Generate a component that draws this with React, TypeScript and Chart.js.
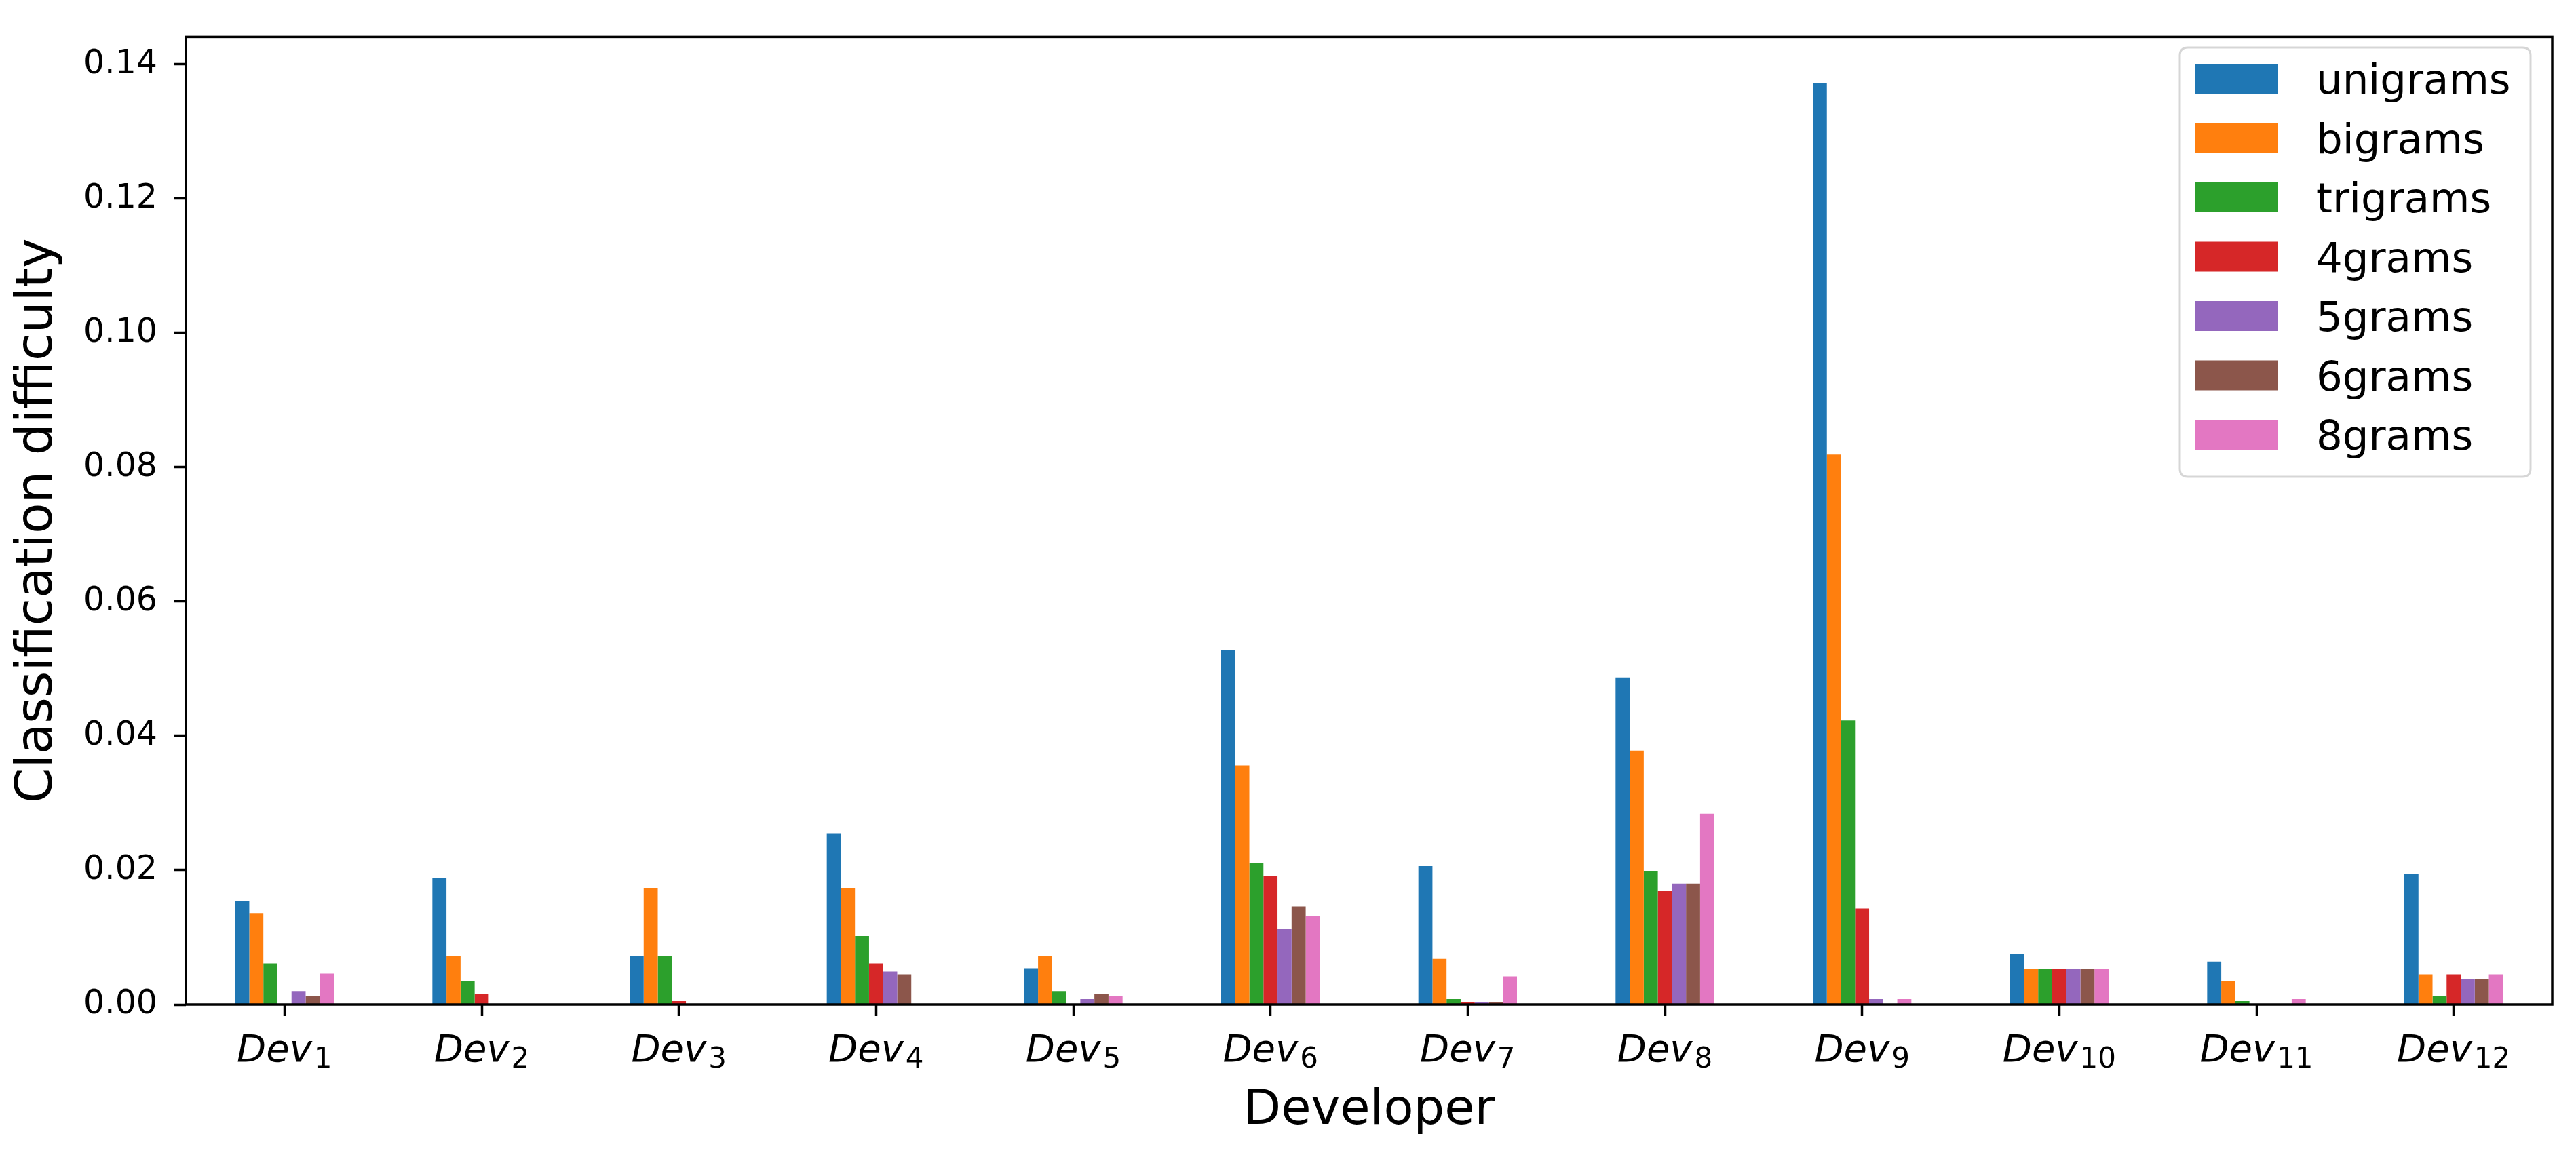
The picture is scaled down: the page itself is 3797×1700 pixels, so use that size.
import React, { useEffect, useRef } from "react";
import { Chart, registerables } from "chart.js";

Chart.register(...registerables);

const categories = ["1", "2", "3", "4", "5", "6", "7", "8", "9", "10", "11", "12"];
const seriesNames = ["unigrams", "bigrams", "trigrams", "4grams", "5grams", "6grams", "8grams"];
const seriesColors = ["#1f77b4", "#ff7f0e", "#2ca02c", "#d62728", "#9467bd", "#8c564b", "#e377c2"];

const unigrams = [0.0154, 0.0188, 0.0072, 0.0255, 0.0054, 0.0528, 0.0206, 0.0487, 0.1372, 0.0075, 0.0064, 0.0195];
const bigrams = [0.0136, 0.0072, 0.0173, 0.0173, 0.0072, 0.0356, 0.0068, 0.0378, 0.0819, 0.0053, 0.0035, 0.0045];
const trigrams = [0.0061, 0.0035, 0.0072, 0.0102, 0.002, 0.021, 0.0008, 0.0199, 0.0423, 0.0053, 0.0005, 0.0012];
const fourgrams = [0, 0.0016, 0.0005, 0.0061, 0, 0.0192, 0.0004, 0.0169, 0.0143, 0.0053, 0, 0.0045];
const fivegrams = [0.002, 0, 0, 0.0049, 0.0008, 0.0113, 0.0004, 0.018, 0.0008, 0.0053, 0, 0.0038];
const sixgrams = [0.0012, 0, 0, 0.0045, 0.0016, 0.0146, 0.0004, 0.018, 0, 0.0053, 0, 0.0038];
const eightgrams = [0.0046, 0, 0, 0, 0.0012, 0.0132, 0.0042, 0.0284, 0.0008, 0.0053, 0.0008, 0.0045];

const seriesValues = [unigrams, bigrams, trigrams, fourgrams, fivegrams, sixgrams, eightgrams];
const yTicks = [0, 0.02, 0.04, 0.06, 0.08, 0.1, 0.12, 0.14];
const yMax = 0.1441;

const W = 3797;
const H = 1700;
const FONT = "'DejaVu Sans', 'Liberation Sans', sans-serif";

const spinesPlugin = {
  id: "spines",
  afterDatasetsDraw(chart: any) {
    const { ctx, chartArea } = chart;
    ctx.save();
    ctx.strokeStyle = "#000";
    ctx.lineWidth = 3.5;
    ctx.strokeRect(chartArea.left, chartArea.top, chartArea.right - chartArea.left, chartArea.bottom - chartArea.top);
    ctx.restore();
  },
};

const xLabelsPlugin = {
  id: "xlabels",
  afterDraw(chart: any) {
    const { ctx } = chart;
    const xs = chart.scales.x;
    ctx.save();
    ctx.fillStyle = "#000";
    ctx.textBaseline = "alphabetic";
    ctx.textAlign = "left";
    const mainFont = `italic 56px ${FONT}`;
    const subFont = `42px ${FONT}`;
    categories.forEach((c, i) => {
      const x = xs.getPixelForValue(i);
      ctx.font = mainFont;
      const w1 = ctx.measureText("Dev").width;
      ctx.font = subFont;
      const w2 = ctx.measureText(c).width;
      const gap = 3;
      const total = w1 + gap + w2;
      const x0 = x - total / 2;
      ctx.font = mainFont;
      ctx.fillText("Dev", x0, 1565);
      ctx.font = subFont;
      ctx.fillText(c, x0 + w1 + gap, 1574);
    });
    ctx.restore();
  },
};

const legendPlugin = {
  id: "customLegend",
  afterDraw(chart: any) {
    const { ctx } = chart;
    ctx.save();
    const bx = 3213, by = 70, bw = 517, bh = 633, r = 12;
    ctx.beginPath();
    ctx.moveTo(bx + r, by);
    ctx.lineTo(bx + bw - r, by);
    ctx.quadraticCurveTo(bx + bw, by, bx + bw, by + r);
    ctx.lineTo(bx + bw, by + bh - r);
    ctx.quadraticCurveTo(bx + bw, by + bh, bx + bw - r, by + bh);
    ctx.lineTo(bx + r, by + bh);
    ctx.quadraticCurveTo(bx, by + bh, bx, by + bh - r);
    ctx.lineTo(bx, by + r);
    ctx.quadraticCurveTo(bx, by, bx + r, by);
    ctx.closePath();
    ctx.fillStyle = "rgba(255,255,255,0.8)";
    ctx.fill();
    ctx.strokeStyle = "rgba(204,204,204,0.8)";
    ctx.lineWidth = 3;
    ctx.stroke();
    ctx.font = `61px ${FONT}`;
    ctx.textBaseline = "alphabetic";
    ctx.textAlign = "left";
    seriesNames.forEach((name, i) => {
      const cy = 116 + i * 87.5;
      ctx.fillStyle = seriesColors[i];
      ctx.fillRect(3235, cy - 22, 123, 44);
      ctx.fillStyle = "#000";
      ctx.fillText(name, 3414, cy + 22);
    });
    ctx.restore();
  },
};

export default function App() {
  const canvasRef = useRef<HTMLCanvasElement | null>(null);

  useEffect(() => {
    if (!canvasRef.current) return;
    const chart = new Chart(canvasRef.current, {
      type: "bar",
      data: {
        labels: categories.map((c) => "Dev" + c),
        datasets: seriesNames.map((name, i) => ({
          label: name,
          data: seriesValues[i],
          backgroundColor: seriesColors[i],
          borderWidth: 0,
          categoryPercentage: 0.5,
          barPercentage: 1.0,
        })),
      },
      options: {
        animation: false,
        responsive: false,
        devicePixelRatio: 1,
        layout: { padding: { top: 38, right: 35, left: 0, bottom: 0 } },
        plugins: {
          legend: { display: false },
          tooltip: { enabled: false },
        },
        scales: {
          x: {
            type: "category",
            offset: true,
            grid: {
              offset: false,
              drawOnChartArea: false,
              drawTicks: true,
              tickLength: 17,
              tickWidth: 3.5,
              tickColor: "#000",
            },
            border: { display: false },
            ticks: { display: false },
            title: {
              display: true,
              text: "Developer",
              color: "#000",
              font: { family: FONT, size: 72, lineHeight: 1.2 },
              padding: { top: 0, bottom: 19 },
            },
            afterFit(scale: any) {
              scale.height = 219;
            },
          },
          y: {
            type: "linear",
            min: 0,
            max: yMax,
            grid: {
              drawOnChartArea: false,
              drawTicks: true,
              tickLength: 17,
              tickWidth: 3.5,
              tickColor: "#000",
            },
            border: { display: false },
            afterBuildTicks(scale: any) {
              scale.ticks = yTicks.map((v) => ({ value: v }));
            },
            ticks: {
              color: "#000",
              padding: 25,
              font: { family: FONT, size: 49 },
              callback: (v: any) => Number(v).toFixed(2),
            },
            title: {
              display: true,
              text: "Classification difficulty",
              color: "#000",
              font: { family: FONT, size: 74, lineHeight: 1.2 },
              padding: { top: 12, bottom: 0 },
            },
            afterFit(scale: any) {
              scale.width = 274;
            },
          },
        },
      },
      plugins: [spinesPlugin, xLabelsPlugin, legendPlugin],
    } as any);
    return () => chart.destroy();
  }, []);

  return (
    <div style={{ position: "fixed", left: 0, top: 0, width: W, height: H, background: "#fff" }}>
      <canvas ref={canvasRef} width={W} height={H} style={{ width: W, height: H, display: "block" }} />
    </div>
  );
}
